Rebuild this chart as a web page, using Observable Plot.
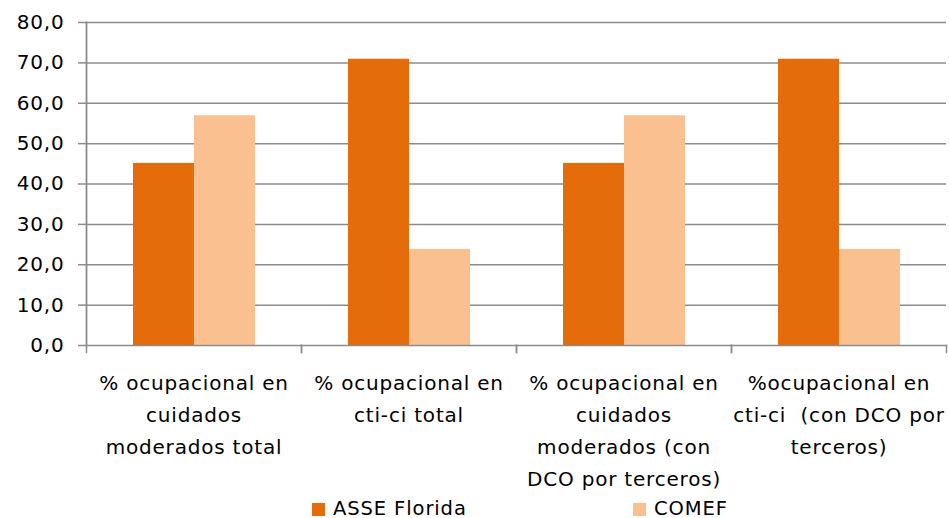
<!DOCTYPE html>
<html>
<head>
<meta charset="utf-8">
<script src="https://cdn.jsdelivr.net/npm/d3@7"></script>
<script src="https://cdn.jsdelivr.net/npm/@observablehq/plot@0.6"></script>
<style>
  html, body { margin: 0; padding: 0; background: #fff; }
  #wrap { width: 949px; position: relative; font-family: "DejaVu Sans", Verdana, sans-serif; }
  #legend { position: relative; height: 18px; font-size: 19.5px; line-height: 18px; letter-spacing: 0.9px; color: #000; }
  .item { position: absolute; top: 0; display: flex; align-items: center; height: 18px; line-height: 18px; }
  .sw { width: 13px; height: 13px; margin-right: 8px; }
  svg text { letter-spacing: 0.8px; }
</style>
</head>
<body>
<div id="wrap"></div>
<script>
const categories = [
  "% ocupacional en\ncuidados\nmoderados total",
  "% ocupacional en\ncti-ci total",
  "% ocupacional en\ncuidados\nmoderados (con\nDCO por terceros)",
  "%ocupacional en\ncti-ci  (con DCO por\nterceros)"
];
const series = ["ASSE Florida", "COMEF"];
const asseValues = [45.1, 70.9, 45.1, 70.9];
const comefValues = [56.9, 23.8, 56.9, 23.8];
const colors = ["#E46C0A", "#FAC090"];
const yTicks = [0, 10, 20, 30, 40, 50, 60, 70, 80];

const data = [];
categories.forEach((c, i) => {
  data.push({category: c, series: series[0], value: asseValues[i]});
  data.push({category: c, series: series[1], value: comefValues[i]});
});

const W = 949, H = 500, mTop = 22, mBottom = 155, mLeft = 84, mRight = 2;
const plotH = H - mTop - mBottom;
const gray = "#8C8C8C";
const fontSize = 20;

const chart = Plot.plot({
  width: W,
  height: H,
  marginTop: mTop,
  marginBottom: mBottom,
  marginLeft: mLeft,
  marginRight: mRight,
  style: {fontFamily: '"DejaVu Sans", Verdana, sans-serif', fontSize: fontSize + "px", color: "#000", background: "#fff"},
  fx: {domain: categories, padding: 0, label: null},
  x: {domain: series, paddingInner: 0, paddingOuter: 0.75, axis: null},
  y: {domain: [0, 80], label: null, axis: null},
  color: {domain: series, range: colors},
  marks: [
    Plot.gridY(yTicks.filter(d => d > 0), {stroke: gray, strokeOpacity: 1, strokeWidth: 1.5}),
    Plot.barY(data, {fx: "category", x: "series", y: "value", fill: "series"}),
    Plot.frame({anchor: "bottom", stroke: gray, strokeWidth: 1.5}),
    Plot.frame({anchor: "left", stroke: gray, strokeWidth: 1.5, insetTop: plotH, insetBottom: -7}),
    Plot.frame({anchor: "right", stroke: gray, strokeWidth: 1.5, insetTop: plotH, insetBottom: -7}),
    Plot.frame({anchor: "left", fx: categories[0], stroke: gray, strokeWidth: 1.8}),
    Plot.axisY({ticks: yTicks, tickSize: 8, tickPadding: 14, stroke: gray, strokeWidth: 1.5,
      tickFormat: d => d.toFixed(1).replace(".", ","), fontSize: fontSize, label: null}),
    Plot.axisFx({anchor: "bottom", tickSize: 0, tickPadding: 22, lineHeight: 1.6, fontSize: fontSize, label: null})
  ]
});

const wrap = document.getElementById("wrap");
wrap.appendChild(chart);
const legend = document.createElement("div");
legend.id = "legend";
const lefts = [312, 633];
series.forEach((s, i) => {
  const it = document.createElement("div");
  it.className = "item";
  it.style.left = lefts[i] + "px";
  const sw = document.createElement("div");
  sw.className = "sw";
  sw.style.background = colors[i];
  const tx = document.createElement("span");
  tx.textContent = s;
  it.appendChild(sw);
  it.appendChild(tx);
  legend.appendChild(it);
});
wrap.appendChild(legend);
</script>
</body>
</html>
